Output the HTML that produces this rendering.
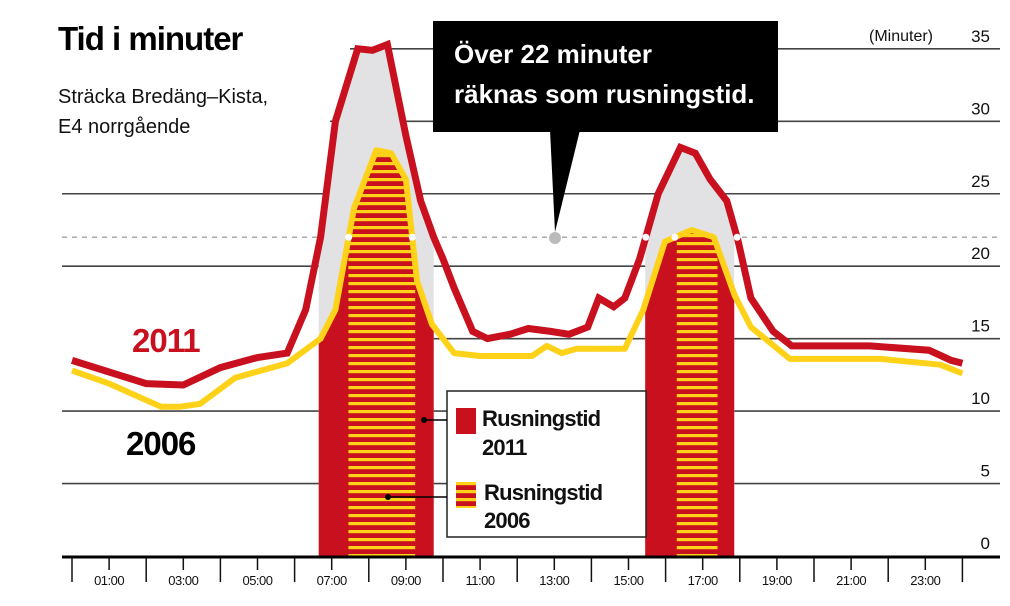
<!DOCTYPE html>
<html><head><meta charset="utf-8">
<style>
html,body{margin:0;padding:0;background:#fff;}
svg{display:block;font-family:"Liberation Sans",sans-serif;}
</style></head>
<body>
<svg id="chart" width="1010" height="606" viewBox="0 0 1010 606" xmlns="http://www.w3.org/2000/svg">
<defs>
<pattern id="stripes" patternUnits="userSpaceOnUse" width="10" height="8">
<rect width="10" height="8" fill="#c8101e"/>
<rect y="2" width="10" height="3.2" fill="#ffd21a"/>
</pattern>
</defs>
<g id="grid"></g>
<g id="fills"></g>
<g id="lines"></g>
<g id="axes"></g>
<text x="58" y="50" font-size="33" font-weight="bold" fill="#000" letter-spacing="-1">Tid i minuter</text>
<text x="58" y="103" font-size="20" fill="#111">Sträcka Bredäng–Kista,</text>
<text x="58" y="133" font-size="20" fill="#111">E4 norrgående</text>
<text x="933" y="41" font-size="16" fill="#111" text-anchor="end">(Minuter)</text>
<text x="132" y="352" font-size="33" font-weight="bold" fill="#c8101e" letter-spacing="-1">2011</text>
<text x="126" y="455" font-size="33" font-weight="bold" fill="#000" letter-spacing="-1">2006</text>
<g>
<rect x="433" y="21" width="345" height="111" fill="#000"/>
<polygon points="550,130 580,130 555,232" fill="#000"/>
<circle cx="555" cy="238" r="6" fill="#bbb"/>
<text x="454" y="63" font-size="26" font-weight="bold" fill="#fff">Över 22 minuter</text>
<text x="454" y="103" font-size="26" font-weight="bold" fill="#fff">räknas som rusningstid.</text>
</g>
<g>
<rect x="447" y="391" width="199" height="146" fill="#fff" stroke="#222" stroke-width="1.5"/>
<line x1="425" y1="420" x2="447" y2="420" stroke="#000" stroke-width="1.5"/>
<circle cx="424" cy="420" r="3" fill="#000"/>
<line x1="388" y1="497" x2="447" y2="497" stroke="#000" stroke-width="1.5"/>
<circle cx="388" cy="497" r="3" fill="#000"/>
<rect x="456" y="408" width="20" height="26" fill="#c8101e"/>
<rect x="456" y="482" width="20" height="26" fill="url(#stripes)"/>
<text x="482" y="426" font-size="22" font-weight="bold" fill="#111" letter-spacing="-0.8">Rusningstid</text>
<text x="482" y="455" font-size="22" font-weight="bold" fill="#111" letter-spacing="-0.8">2011</text>
<text x="484" y="500" font-size="22" font-weight="bold" fill="#111" letter-spacing="-0.8">Rusningstid</text>
<text x="484" y="528" font-size="22" font-weight="bold" fill="#111" letter-spacing="-0.8">2006</text>
</g>
</svg>
<script>
const yTicks=[0,5,10,15,20,25,30,35];
const xLabels=["01:00","03:00","05:00","07:00","09:00","11:00","13:00","15:00","17:00","19:00","21:00","23:00"];
const hours2011=[0,1,2,3,4,5,5.8,6.3,6.7,7.1,7.7,8.1,8.5,9,9.4,9.75,10,10.3,10.8,11.2,11.8,12.3,12.9,13.4,13.9,14.2,14.6,14.9,15.3,15.8,16.4,16.8,17.2,17.65,17.95,18.3,18.9,19.4,21,21.5,23.1,23.7,24];
const values2011=[13.5,12.7,11.9,11.8,13,13.7,14,17,22,30,35,34.9,35.3,29,24.5,22,20.5,18.5,15.5,15,15.3,15.7,15.5,15.3,15.8,17.8,17.2,17.8,20.5,25,28.2,27.8,26,24.5,21.8,17.8,15.5,14.5,14.5,14.5,14.2,13.5,13.3];
const hours2006=[0,1,2.4,2.9,3.45,4.4,5.8,6.7,7.1,7.6,8.2,8.6,9,9.3,9.7,10.3,11,12.4,12.8,13.2,13.6,14.9,15.4,15.98,16.7,17.3,17.86,18.3,19.35,21.8,23.4,24];
const values2006=[12.8,11.9,10.3,10.3,10.5,12.3,13.3,15,17,24,28,27.8,26,19,16,14,13.8,13.8,14.5,14,14.3,14.3,17,21.7,22.5,22,18,15.8,13.6,13.6,13.2,12.6];
const rushThreshold=22;
const rushWindows=[[6.65,9.75],[15.45,17.85]];
const stripeWindows=[[7.45,9.25],[16.3,17.4]];

const NS="http://www.w3.org/2000/svg";
const X=h=>72+37.1*h;
const Y=v=>556-14.49*v;
function mk(tag,attrs,parent){const e=document.createElementNS(NS,tag);for(const k in attrs)e.setAttribute(k,attrs[k]);parent.appendChild(e);return e;}
const grid=document.getElementById('grid'),fills=document.getElementById('fills'),lines=document.getElementById('lines'),axes=document.getElementById('axes');
const gridStart={5:62,10:62,15:345,20:62,25:62,30:330,35:350};
yTicks.forEach(t=>{
  if(t>0){const l=mk('line',{x1:gridStart[t],x2:1000,y1:Y(t),y2:Y(t),stroke:'#444','stroke-width':1.6},grid);
  
  }
  const tx=mk('text',{x:990,y:Y(t)-7,'font-size':17,'text-anchor':'end',fill:'#111'},axes);
  tx.textContent=t;
  
  
});
const d=mk('line',{x1:62,x2:1000,y1:Y(rushThreshold),y2:Y(rushThreshold),stroke:'#aaa','stroke-width':1.5,'stroke-dasharray':'5,5'},grid);


function pts(hs,vs){return hs.map((h,i)=>X(h).toFixed(1)+','+Y(vs[i]).toFixed(1)).join(' ');}
function area(hs,vs){return 'M'+X(hs[0])+','+Y(0)+' L'+pts(hs,vs).split(' ').join(' L')+' L'+X(hs[hs.length-1])+','+Y(0)+' Z';}
const defs=document.querySelector('defs');
const c1=mk('clipPath',{id:'under2011'},defs);mk('path',{d:area(hours2011,values2011)},c1);
const c2=mk('clipPath',{id:'under2006'},defs);mk('path',{d:area(hours2006,values2006)},c2);
rushWindows.forEach((w,i)=>{
  const g=mk('rect',{x:X(w[0]),y:0,width:X(w[1])-X(w[0]),height:Y(0),fill:'#e2e2e4','clip-path':'url(#under2011)'},fills);
  
  
  const r=mk('rect',{x:X(w[0]),y:0,width:X(w[1])-X(w[0]),height:Y(0),fill:'#c8101e','clip-path':'url(#under2006)'},fills);
  
  
});
stripeWindows.forEach((w,i)=>{
  const s=mk('rect',{x:X(w[0]),y:0,width:X(w[1])-X(w[0]),height:Y(0),fill:'url(#stripes)','clip-path':'url(#under2006)'},fills);
  
  
});
const l6=mk('polyline',{points:pts(hours2006,values2006),fill:'none',stroke:'#ffd21a','stroke-width':6,'stroke-linejoin':'round'},lines);


const l1=mk('polyline',{points:pts(hours2011,values2011),fill:'none',stroke:'#c8101e','stroke-width':7,'stroke-linejoin':'miter'},lines);


// threshold crossing dots
function crossings(hs,vs){const out=[];for(let i=1;i<hs.length;i++){const a=vs[i-1]-rushThreshold,b=vs[i]-rushThreshold;if(a*b<0){const t=a/(a-b);out.push(hs[i-1]+t*(hs[i]-hs[i-1]));}}return out;}
crossings(hours2011,values2011).concat(crossings(hours2006,values2006)).forEach((h,i)=>{
  const c=mk('circle',{cx:X(h),cy:Y(rushThreshold),r:3.5,fill:'#fff'},lines);
  
  
});
const base=mk('line',{x1:62,x2:1000,y1:557,y2:557,stroke:'#000','stroke-width':3},axes);


for(let h=0;h<=24;h++){
  const long=h%2===0;
  const t=mk('line',{x1:X(h),x2:X(h),y1:558,y2:long?582:570,stroke:'#111','stroke-width':1.5},axes);
  
  
}
xLabels.forEach((lab,i)=>{
  const t=mk('text',{x:X(2*i+1),y:585,'font-size':13,'text-anchor':'middle',fill:'#111','letter-spacing':'-0.5'},axes);
  t.textContent=lab;
  
  
});
</script>
</body></html>
